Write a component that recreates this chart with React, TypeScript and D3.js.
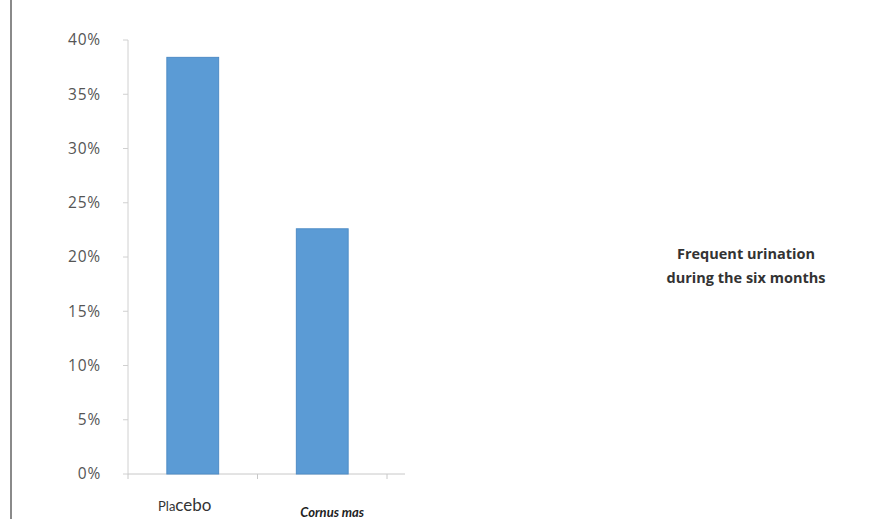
import React from "react";
import * as d3 from "d3";

const categories = ["Placebo", "Cornus mas"];
const values = [0.384, 0.226];
const yTicks = [0, 0.05, 0.1, 0.15, 0.2, 0.25, 0.3, 0.35, 0.4];
const legendLines = ["Frequent urination", "during the six months"];

export default function App() {
  const W = 872, H = 519;
  const x0 = 128, x1 = 387;
  const yTop = 40, yBot = 474;
  const x = d3.scaleBand<string>().domain(categories).range([x0, x1]).paddingInner(0.6).paddingOuter(0.3);
  const y = d3.scaleLinear().domain([0, 0.4]).range([yBot, yTop]);
  const fmt = d3.format(".0%");
  const band = (x1 - x0) / categories.length;
  const font = "Lato, 'Open Sans', sans-serif";
  return (
    <svg width={W} height={H} style={{ position: "absolute", left: 0, top: 0, background: "#fff" }} fontFamily={font}>
      <line x1={11} x2={11} y1={0} y2={H} stroke="#8a8a8a" strokeWidth={2} />
      <line x1={x0} x2={x0} y1={yTop} y2={yBot} stroke="#d0d0d0" strokeWidth={1} />
      <line x1={x0} x2={405} y1={yBot} y2={yBot} stroke="#c8c8c8" strokeWidth={1} />
      {yTicks.map((t) => (
        <g key={t}>
          <line x1={x0 - 5} x2={x0} y1={y(t)} y2={y(t)} stroke="#d0d0d0" />
          <text x={101} y={y(t)} dy="0.35em" textAnchor="end" fontSize={15.5} letterSpacing={0.8} fontFamily="'Open Sans', sans-serif" fill="#555">{fmt(t)}</text>
        </g>
      ))}
      {[0, 1, 2].map((i) => (
        <line key={i} x1={x0 + i * band} x2={x0 + i * band} y1={yBot} y2={yBot + 5} stroke="#c8c8c8" />
      ))}
      {categories.map((c, i) => (
        <rect key={c} x={x(c)} y={y(values[i])} width={x.bandwidth()} height={yBot - y(values[i])} fill="#5b9bd5" stroke="#4f8cc6" strokeWidth={1} />
      ))}
      <text x={(x(categories[0]) as number) + x.bandwidth() / 2 - 8} y={511} textAnchor="middle" fill="#333">
        <tspan fontSize={13}>Pla</tspan><tspan fontSize={17}>cebo</tspan>
      </text>
      <text x={(x(categories[1]) as number) + x.bandwidth() / 2 + 10} y={517} textAnchor="middle" fontSize={13} fontStyle="italic" fontWeight="bold" fill="#222">{categories[1]}</text>
      {legendLines.map((l, i) => (
        <text key={l} x={746} y={259 + i * 24} textAnchor="middle" fontSize={14.5} fontWeight="bold" fontFamily="'Open Sans', sans-serif" fill="#333">{l}</text>
      ))}
    </svg>
  );
}
